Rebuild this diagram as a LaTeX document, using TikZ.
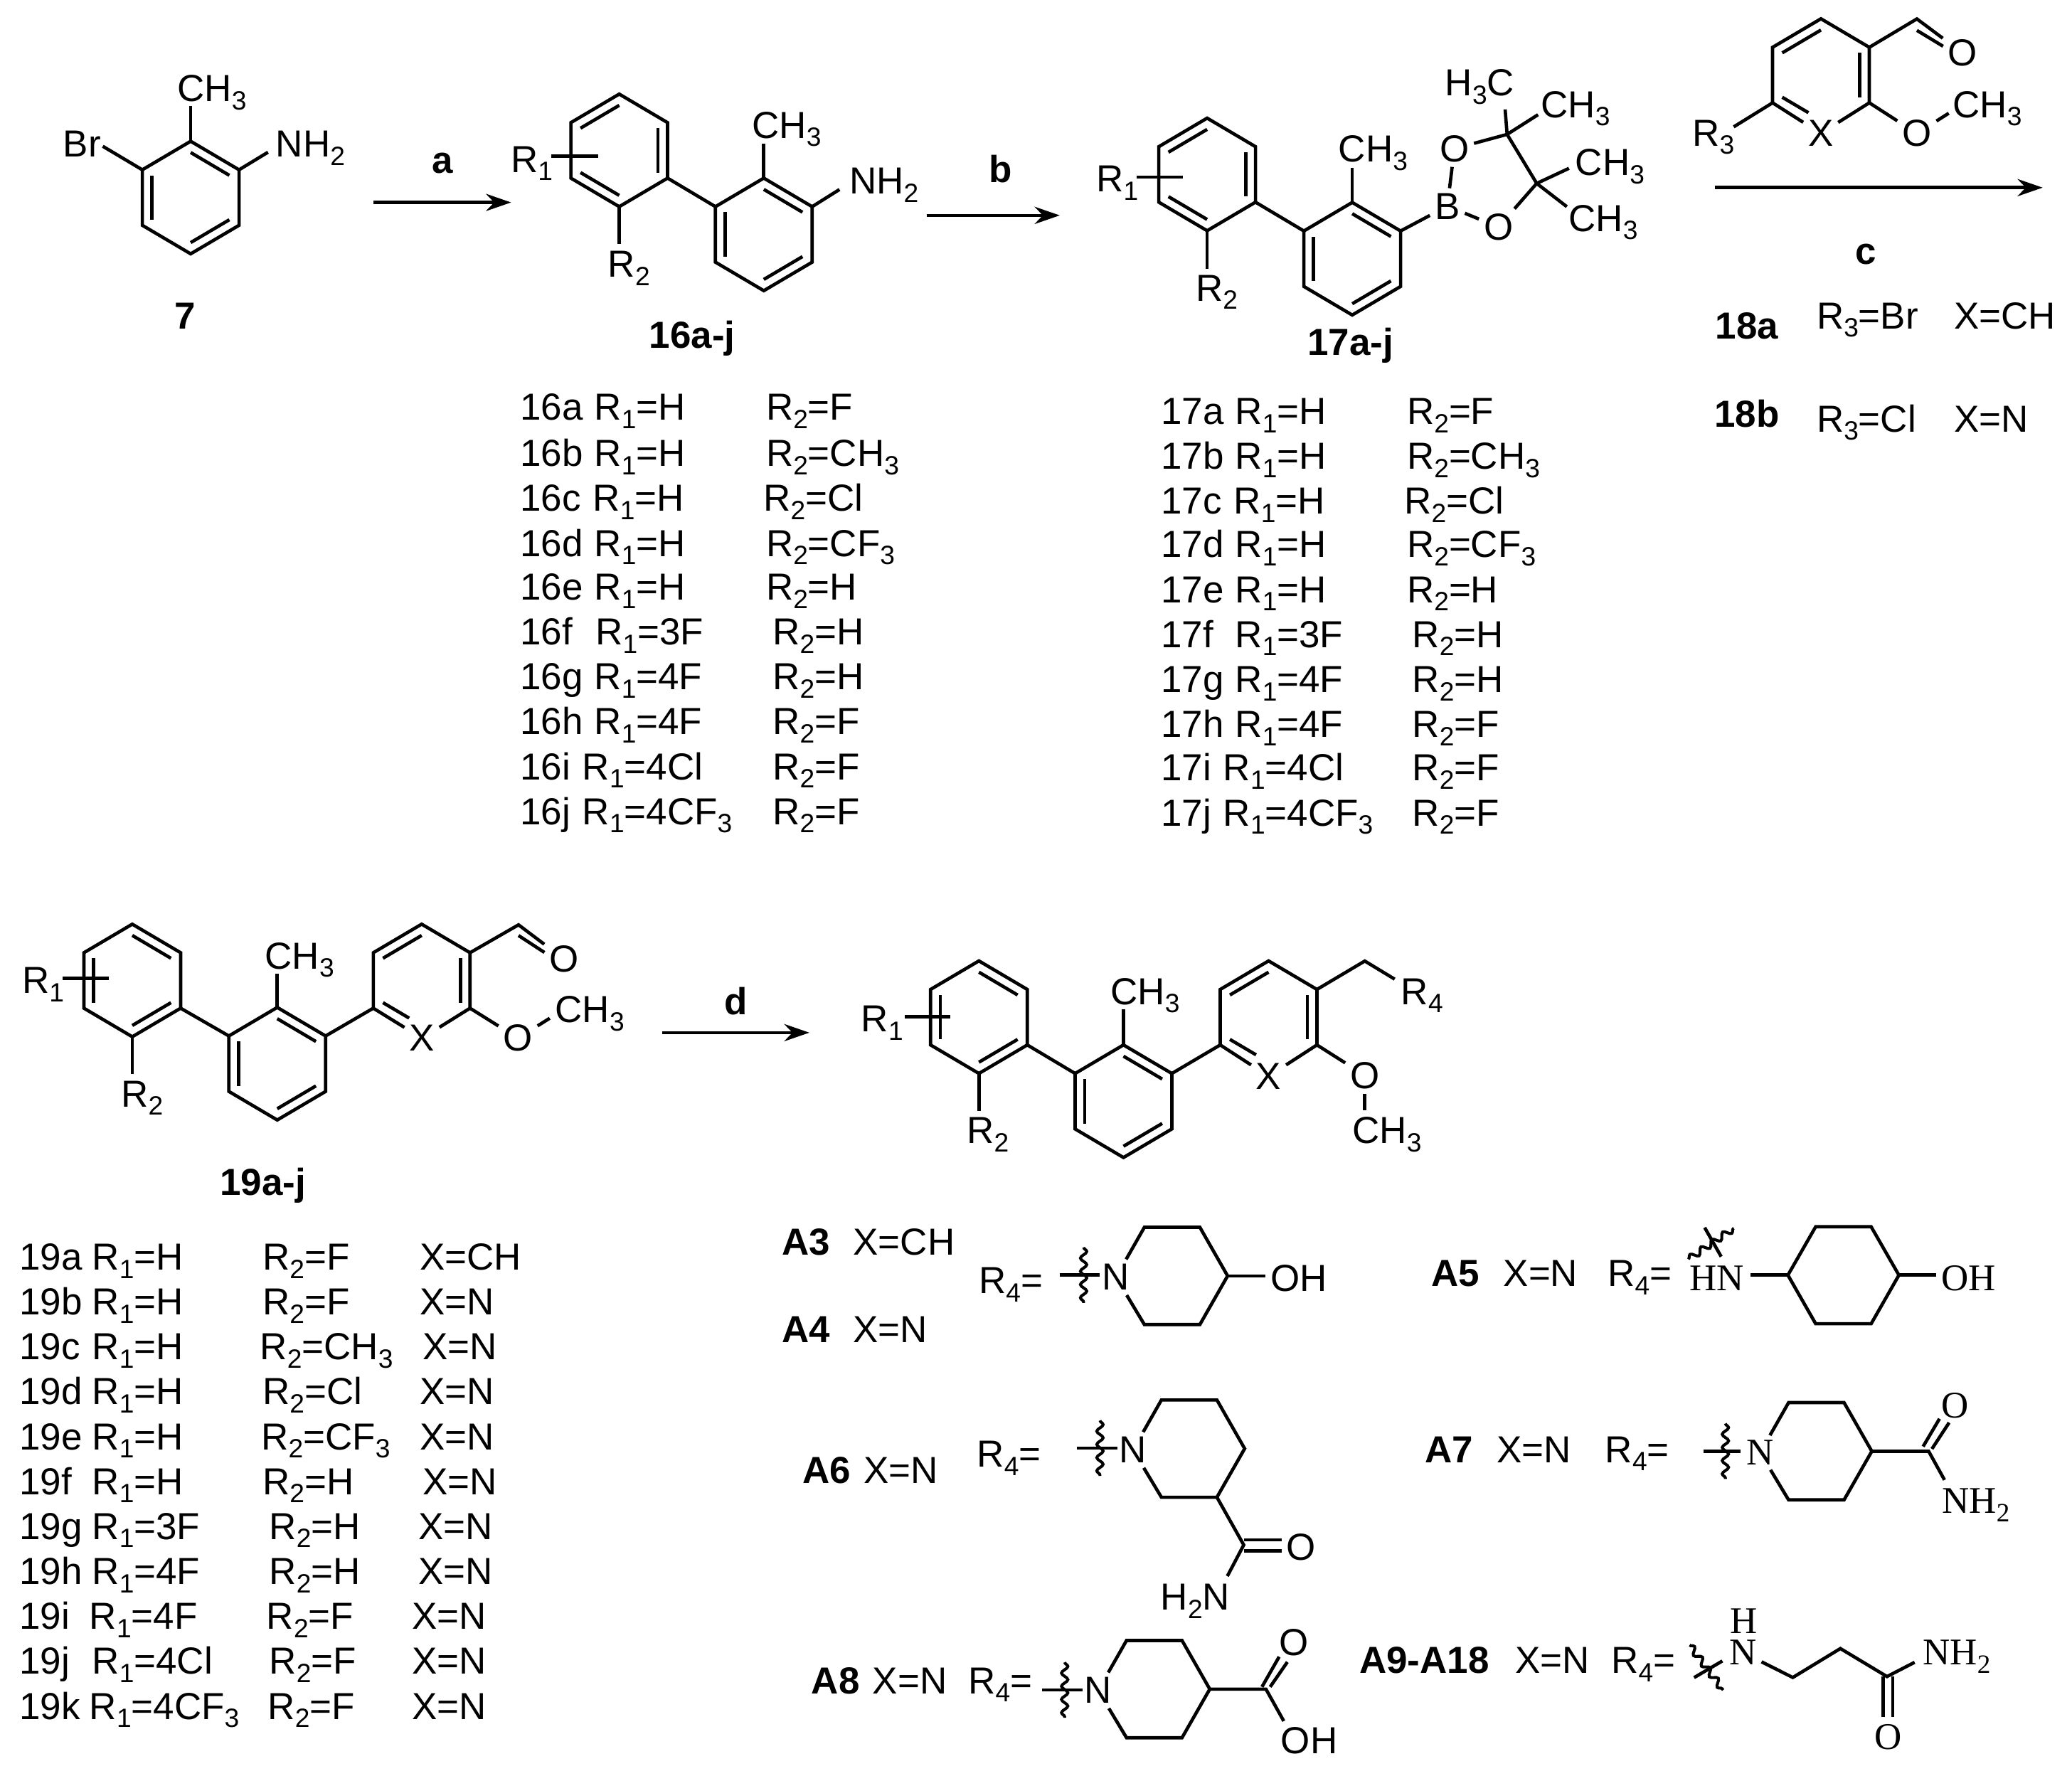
\documentclass[tikz,border=0pt]{standalone}
\usepackage{fontspec}
\setmainfont{Liberation Sans}
\newfontfamily\serifatom{Liberation Serif}
\usetikzlibrary{arrows.meta,calc,decorations.pathmorphing}

\newcommand{\lsub}[1]{\raisebox{-0.22em}{\fontsize{20}{20}\selectfont #1}}
% ring corners: 1 top, then clockwise, 0 centre
\newcommand{\hexpts}[3]{
  \coordinate (#1-0) at (#2,#3);
  \coordinate (#1-1) at (#2,#3-42.6);
  \coordinate (#1-2) at (#2+36.6,#3-21);
  \coordinate (#1-3) at (#2+36.6,#3+21);
  \coordinate (#1-4) at (#2,#3+42.6);
  \coordinate (#1-5) at (#2-36.6,#3+21);
  \coordinate (#1-6) at (#2-36.6,#3-21);
}
\newcommand{\phring}[3]{
  \hexpts{#1}{#2}{#3}
  \draw (#1-1) -- (#1-2) -- (#1-3) -- (#1-4) -- (#1-5) -- (#1-6) -- cycle;
}
\newcommand{\inbond}[4][]{\draw[#1] ($(#2-#3)!0.2!(#2-0)$) -- ($(#2-#4)!0.2!(#2-0)$);}
% saturated ring, given by its right corner; the N is a node
\newcommand{\pipring}[4]{
  \coordinate (#1-1) at (#2-63,#3-36.8);
  \coordinate (#1-2) at (#2-21,#3-36.8);
  \coordinate (#1-3) at (#2,#3);
  \coordinate (#1-4) at (#2-21,#3+36.8);
  \coordinate (#1-5) at (#2-63,#3+36.8);
  \node[atom] (#1-n) at (#2-84.5,#3+1) {#4N};
  \draw (#1-n) -- (#1-1) -- (#1-2) -- (#1-3) -- (#1-4) -- (#1-5) -- (#1-n);
}
% straight cut through the bond, with the wavy line across it
\newcommand{\cutmark}[5]{
  \coordinate (#1-a) at (#2,#5);
  \coordinate (#1-b) at (#3,#5);
  \coordinate (#1-c) at (#4,#5-21);
  \coordinate (#1-d) at (#4,#5+21);
  \draw (#1-a) -- (#1-b);
  \draw[wavy] (#1-c) -- (#1-d);
}

\tikzset{
  txt/.style={anchor=base west,inner sep=0pt,xshift=-1.5pt,font=\fontsize{28.5}{30}\selectfont},
  btxt/.style={txt,font=\fontsize{28.5}{30}\selectfont\bfseries},
  title/.style={anchor=base,inner sep=0pt,font=\fontsize{28.5}{30}\selectfont\bfseries},
  atom/.style={inner sep=2.5pt,font=\fontsize{28.5}{30}\selectfont},
  rxn/.style={line width=2.5pt,-{Stealth[length=19pt,width=13pt]}},
  wavy/.style={line width=2.2pt,decorate,decoration={snake,segment length=10pt,amplitude=2.4pt}}
}

\begin{document}
\begin{tikzpicture}[x=1pt,y=-1pt,line width=2.5pt]
  \useasboundingbox (0,0) rectangle (1568,1344);

  % 7
  \phring{a7}{144.3}{149.5}
  \inbond{a7}{1}{2}
  \inbond{a7}{3}{4}
  \inbond{a7}{5}{6}
  \node[txt] (a7m) at (134.5,76.8) {CH\lsub{3}};
  \node[txt] (a7br) at (48,118.8) {Br};
  \node[txt] (a7nh) at (209,118.8) {NH\lsub{2}};
  \node[title] (a7name) at (140,249) {7};
  \coordinate (a7p) at (144.3,80.4);
  \coordinate (a7q) at (77.8,110.7);
  \coordinate (a7r) at (202.8,115.2);
  \draw (a7-1) -- (a7p);
  \draw (a7-6) -- (a7q);
  \draw (a7-2) -- (a7r);

  % 16
  \phring{b1}{468.6}{113.8}
  \phring{b2}{578}{177.4}
  \inbond{b1}{1}{6}
  \inbond{b1}{2}{3}
  \inbond{b1}{4}{5}
  \inbond{b2}{1}{2}
  \inbond{b2}{3}{4}
  \inbond{b2}{5}{6}
  \draw (b1-3) -- (b2-6);
  \node[txt] (b1r) at (386.8,130.4) {R\lsub{1}};
  \node[txt] (b2r) at (460.4,209.8) {R\lsub{2}};
  \node[txt] (b2m) at (569.4,104.5) {CH\lsub{3}};
  \node[txt] (b2nh) at (643,146.8) {NH\lsub{2}};
  \node[title] (bname) at (523.8,263.4) {16a-j};
  \coordinate (b1p) at (417.1,118);
  \coordinate (b1q) at (452.7,118);
  \coordinate (b1s) at (468.6,184.8);
  \coordinate (b2p) at (578,108.6);
  \coordinate (b2q) at (635.3,143.4);
  \draw (b1p) -- (b1q);
  \draw (b1-4) -- (b1s);
  \draw (b2-1) -- (b2p);
  \draw (b2-2) -- (b2q);

  % 17
  \phring{c1}{913.5}{132}
  \phring{c2}{1023.3}{195.8}
  \inbond{c1}{1}{6}
  \inbond{c1}{2}{3}
  \inbond{c1}{4}{5}
  \inbond{c2}{1}{2}
  \inbond{c2}{3}{4}
  \inbond{c2}{5}{6}
  \draw (c1-3) -- (c2-6);
  \node[txt] (c1r) at (829.9,145) {R\lsub{1}};
  \node[txt] (c2r) at (905.2,227.8) {R\lsub{2}};
  \node[txt] (c2m) at (1013.2,122.6) {CH\lsub{3}};
  \node[atom] (cb) at (1095.3,156) {B};
  \node[atom] (co1) at (1100.6,112.5) {O};
  \node[atom] (co2) at (1134,171.8) {O};
  \node[txt] (cm1) at (1094,72.5) {H\lsub{3}C};
  \node[txt] (cm2) at (1166.3,89) {CH\lsub{3}};
  \node[txt] (cm3) at (1192.5,132.9) {CH\lsub{3}};
  \node[txt] (cm4) at (1187.3,175) {CH\lsub{3}};
  \node[title] (cname) at (1022,269) {17a-j};
  \coordinate (c1p) at (860,134);
  \coordinate (c1q) at (895.3,134);
  \coordinate (c1s) at (913.5,203.2);
  \coordinate (c2p) at (1023.3,127);
  \coordinate (cc1) at (1140.5,101.7);
  \coordinate (cc2) at (1162.9,138.8);
  \coordinate (cp1) at (1139,82.8);
  \coordinate (cp2) at (1163.9,86.8);
  \coordinate (cp3) at (1187.3,127.4);
  \coordinate (cp4) at (1185.7,156.4);
  \draw (c1p) -- (c1q);
  \draw (c1-4) -- (c1s);
  \draw (c2-1) -- (c2p);
  \draw (c2-2) -- (cb);
  \draw (cb) -- (co1);
  \draw (cb) -- (co2);
  \draw (co1) -- (cc1);
  \draw (co2) -- (cc2);
  \draw (cc1) -- (cc2);
  \draw (cc1) -- (cp1);
  \draw (cc1) -- (cp2);
  \draw (cc2) -- (cp3);
  \draw (cc2) -- (cp4);

  % 18
  \hexpts{d}{1378}{56.8}
  \node[atom] (dx) at (1377.8,101) {X};
  \node[atom] (do1) at (1485,40) {O};
  \node[atom] (do2) at (1450.6,101) {O};
  \node[txt] (dr) at (1281,110.5) {R\lsub{3}};
  \node[txt] (dm) at (1478,89) {CH\lsub{3}};
  \coordinate (dc) at (1450.6,14.3);
  \coordinate (dp) at (1312,96);
  \coordinate (dq) at (1474.7,85.7);
  \coordinate (ds) at (1450.6,23);
  \coordinate (dt) at (1470.4,35);
  \draw (dx) -- (d-5) -- (d-6) -- (d-1) -- (d-2) -- (d-3) -- (dx);
  \inbond{d}{1}{6}
  \inbond{d}{2}{3}
  \inbond[shorten >=11pt]{d}{5}{4}
  \draw (d-2) -- (dc) -- (do1);
  \draw (ds) -- (dt);
  \draw (d-5) -- (dp);
  \draw (d-3) -- (do2);
  \draw (do2) -- (dq);

  \node[title] (dname1) at (1322,256.4) {18a};
  \node[txt] (dr1) at (1375,248.7) {R\lsub{3}=Br};
  \node[txt] (dx1) at (1479,248.7) {X=CH};
  \node[title] (dname2) at (1322,323) {18b};
  \node[txt] (dr2) at (1375,326.9) {R\lsub{3}=Cl};
  \node[txt] (dx2) at (1479,326.9) {X=N};

  % arrows of the first row
  \coordinate (ar1) at (282.6,153.2);
  \coordinate (ar2) at (386.8,153.2);
  \coordinate (ar3) at (701.6,163);
  \coordinate (ar4) at (802,163);
  \coordinate (ar5) at (1298,142);
  \coordinate (ar6) at (1545.8,142);
  \draw[rxn] (ar1) -- (ar2);
  \draw[rxn] (ar3) -- (ar4);
  \draw[rxn] (ar5) -- (ar6);
  \node[title] (sa) at (335,131.3) {a};
  \node[title] (sb) at (757,138) {b};
  \node[title] (sc) at (1412,199.9) {c};

  % lists
  \foreach \lbl/\xa/\ra/\xb/\rb/\yy in {
    16a/450/H/580/F/318,
    16b/450/H/580/CH\lsub{3}/353,
    16c/449/H/578/Cl/387,
    16d/450/H/580/CF\lsub{3}/421,
    16e/450/H/580/H/454,
    16f/451/3F/585/H/488,
    16g/450/4F/585/H/522,
    16h/450/4F/585/F/556,
    16i/441/4Cl/585/F/590,
    16j/441/4CF\lsub{3}/585/F/624,
    17a/935/H/1065/F/321,
    17b/935/H/1065/CH\lsub{3}/355,
    17c/934/H/1063/Cl/389,
    17d/935/H/1065/CF\lsub{3}/422,
    17e/935/H/1065/H/456,
    17f/935/3F/1069/H/490,
    17g/935/4F/1069/H/524,
    17h/935/4F/1069/F/558,
    17i/926/4Cl/1069/F/591,
    17j/926/4CF\lsub{3}/1069/F/625}
  {
    \pgfmathsetmacro{\xn}{\xa<700 ? 394 : 879}
    \node[txt] (n\lbl) at (\xn,\yy) {\lbl};
    \node[txt] (p\lbl) at (\xa,\yy) {R\lsub{1}=\ra};
    \node[txt] (q\lbl) at (\xb,\yy) {R\lsub{2}=\rb};
  }
  \foreach \lbl/\xa/\ra/\xb/\rb/\xc/\rc/\yy in {
    19a/70/H/199/F/318/CH/961,
    19b/70/H/199/F/318/N/995,
    19c/70/H/197/CH\lsub{3}/320/N/1029,
    19d/70/H/199/Cl/318/N/1063,
    19e/70/H/198/CF\lsub{3}/318/N/1097,
    19f/70/H/199/H/320/N/1131,
    19g/70/3F/204/H/317/N/1165,
    19h/70/4F/204/H/317/N/1199,
    19i/68/4F/202/F/312/N/1233,
    19j/70/4Cl/204/F/312/N/1267,
    19k/68/4CF\lsub{3}/203/F/312/N/1301}
  {
    \node[txt] (n\lbl) at (15,\yy) {\lbl};
    \node[txt] (p\lbl) at (\xa,\yy) {R\lsub{1}=\ra};
    \node[txt] (q\lbl) at (\xb,\yy) {R\lsub{2}=\rb};
    \node[txt] (x\lbl) at (\xc,\yy) {X=\rc};
  }

  % 19
  \phring{e1}{100.1}{742}
  \phring{e2}{209.8}{805}
  \hexpts{e3}{319.1}{742}
  \inbond{e1}{1}{2}
  \inbond{e1}{3}{4}
  \inbond{e1}{5}{6}
  \inbond{e2}{1}{2}
  \inbond{e2}{3}{4}
  \inbond{e2}{5}{6}
  \draw (e1-3) -- (e2-6);
  \draw (e2-2) -- (e3-5);
  \node[atom] (ex) at (319.3,785.7) {X};
  \node[atom] (eo1) at (426.7,725.8) {O};
  \node[atom] (eo2) at (392,785.7) {O};
  \node[txt] (e1r) at (17,751.9) {R\lsub{1}};
  \node[txt] (e1s) at (92,837.7) {R\lsub{2}};
  \node[txt] (e2m) at (200.8,733.2) {CH\lsub{3}};
  \node[txt] (e3m) at (420.5,774) {CH\lsub{3}};
  \node[title] (ename) at (199,904.6) {19a-j};
  \coordinate (e1p) at (47.4,740.4);
  \coordinate (e1q) at (82.4,740.4);
  \coordinate (e1t) at (100.1,812.7);
  \coordinate (e2p) at (209.8,736.8);
  \coordinate (ec) at (392.4,699.9);
  \coordinate (es) at (392.4,708);
  \coordinate (et) at (412,720.8);
  \coordinate (eq) at (416,770.6);
  \draw (e1p) -- (e1q);
  \draw (e1-4) -- (e1t);
  \draw (e2-1) -- (e2p);
  \draw (ex) -- (e3-5) -- (e3-6) -- (e3-1) -- (e3-2) -- (e3-3) -- (ex);
  \inbond{e3}{1}{6}
  \inbond{e3}{2}{3}
  \inbond[shorten >=11pt]{e3}{5}{4}
  \draw (e3-2) -- (ec) -- (eo1);
  \draw (es) -- (et);
  \draw (e3-3) -- (eo2);
  \draw (eo2) -- (eq);

  \coordinate (ar7) at (501,781.5);
  \coordinate (ar8) at (612.5,781.5);
  \draw[rxn] (ar7) -- (ar8);
  \node[title] (sd) at (557,768) {d};

  % final compounds
  \phring{f1}{740.8}{769.8}
  \phring{f2}{850.2}{833.4}
  \hexpts{f3}{960}{769.8}
  \inbond{f1}{1}{2}
  \inbond{f1}{3}{4}
  \inbond{f1}{5}{6}
  \inbond{f2}{1}{2}
  \inbond{f2}{3}{4}
  \inbond{f2}{5}{6}
  \draw (f1-3) -- (f2-6);
  \draw (f2-2) -- (f3-5);
  \node[atom] (fx) at (960,814.5) {X};
  \node[atom] (fo) at (1032.8,813.8) {O};
  \node[txt] (f1r) at (652,780.9) {R\lsub{1}};
  \node[txt] (f1s) at (732,865.5) {R\lsub{2}};
  \node[txt] (f2m) at (840.7,760.2) {CH\lsub{3}};
  \node[txt] (f3r) at (1060.6,760.2) {R\lsub{4}};
  \node[txt] (f3m) at (1023.7,865.5) {CH\lsub{3}};
  \coordinate (f1p) at (684.7,769.3);
  \coordinate (f1q) at (719,769.3);
  \coordinate (f1t) at (740.8,841);
  \coordinate (f2p) at (850.2,764);
  \coordinate (fc) at (1032.8,727.3);
  \coordinate (fp) at (1055.4,741);
  \coordinate (fq) at (1032.8,840.2);
  \draw (f1p) -- (f1q);
  \draw (f1-4) -- (f1t);
  \draw (f2-1) -- (f2p);
  \draw (fx) -- (f3-5) -- (f3-6) -- (f3-1) -- (f3-2) -- (f3-3) -- (fx);
  \inbond{f3}{1}{6}
  \inbond{f3}{2}{3}
  \inbond[shorten >=11pt]{f3}{5}{4}
  \draw (f3-2) -- (fc) -- (fp);
  \draw (f3-3) -- (fo);
  \draw (fo) -- (fq);

  % A3, A4
  \node[btxt] (g3) at (592,949.6) {A3};
  \node[txt] (g3x) at (646,949.6) {X=CH};
  \node[btxt] (g4) at (592,1015.9) {A4};
  \node[txt] (g4x) at (646,1015.9) {X=N};
  \node[txt] (gr) at (741,979.1) {R\lsub{4}=};
  \pipring{g}{929}{965.6}{}
  \node[txt] (goh) at (962,977.2) {OH};
  \coordinate (gh) at (957.5,965.6);
  \draw (g-3) -- (gh);
  \cutmark{gc}{802}{832}{820}{965}

  % A5
  \node[btxt] (h5) at (1083.6,973.7) {A5};
  \node[txt] (h5x) at (1138,973.7) {X=N};
  \node[txt] (hr) at (1217,973.7) {R\lsub{4}=};
  \node[txt] (hn) at (1279,976.5) {\serifatom HN};
  \node[txt] (hoh) at (1469.4,976.5) {\serifatom OH};
  \coordinate (h-1) at (1374,928.4);
  \coordinate (h-2) at (1416,928.4);
  \coordinate (h-3) at (1437,965);
  \coordinate (h-4) at (1416,1001.8);
  \coordinate (h-5) at (1374,1001.8);
  \coordinate (h-6) at (1353,965);
  \draw (h-1) -- (h-2) -- (h-3) -- (h-4) -- (h-5) -- (h-6) -- cycle;
  \coordinate (hp) at (1324.6,965);
  \coordinate (hq) at (1465.4,965);
  \draw (h-6) -- (hp);
  \draw (h-3) -- (hq);
  \coordinate (hc1) at (1290,929);
  \coordinate (hc2) at (1302.5,951);
  \coordinate (hc3) at (1277.7,953);
  \coordinate (hc4) at (1312,929.5);
  \draw (hc1) -- (hc2);
  \draw[wavy] (hc3) -- (hc4);

  % A6
  \node[btxt] (k6) at (607.5,1122.6) {A6};
  \node[txt] (k6x) at (653.8,1122.6) {X=N};
  \node[txt] (kr) at (739.7,1110.3) {R\lsub{4}=};
  \pipring{k}{941.9}{1096.3}{}
  \cutmark{kc}{815}{845.4}{832.4}{1096}
  \node[atom] (ko) at (984.4,1170.8) {O};
  \node[txt] (knh) at (878.7,1218.3) {H\lsub{2}N};
  \coordinate (kd) at (941.2,1169.2);
  \coordinate (kd1) at (941.2,1165.4);
  \coordinate (kd2) at (970,1165.4);
  \coordinate (kd3) at (941.2,1173.8);
  \coordinate (kd4) at (970,1173.8);
  \coordinate (kq) at (928.8,1192.8);
  \draw (k-4) -- (kd) -- (kq);
  \draw (kd1) -- (kd2);
  \draw (kd3) -- (kd4);

  % A7
  \node[btxt] (m7) at (1078.6,1106.7) {A7};
  \node[txt] (m7x) at (1133,1106.7) {X=N};
  \node[txt] (mr) at (1215,1106.7) {R\lsub{4}=};
  \pipring{m}{1416.5}{1098.3}{\serifatom}
  \cutmark{mc}{1289}{1317.3}{1305.7}{1098.3}
  \node[atom] (mo) at (1479.7,1063.6) {\serifatom O};
  \node[txt] (mnh) at (1470,1145.4) {\serifatom NH\lsub{2}};
  \coordinate (md) at (1459.5,1098.3);
  \coordinate (md1) at (1455.3,1094.7);
  \coordinate (md2) at (1467.7,1073.7);
  \coordinate (md3) at (1462,1096.5);
  \coordinate (md4) at (1475,1076.6);
  \coordinate (mq) at (1471.5,1120);
  \draw (m-3) -- (md) -- (mq);
  \draw (md1) -- (md2);
  \draw (md3) -- (md4);

  % A8
  \node[btxt] (q8) at (614.3,1281.8) {A8};
  \node[txt] (q8x) at (660.6,1281.8) {X=N};
  \node[txt] (qr) at (733,1281.8) {R\lsub{4}=};
  \pipring{qq}{915.5}{1278.3}{}
  \cutmark{qc}{788.5}{819}{805.7}{1279}
  \node[atom] (qo) at (978.9,1243) {O};
  \node[txt] (qoh) at (969.6,1326.9) {OH};
  \coordinate (qd) at (958,1278.3);
  \coordinate (qd1) at (955,1276.6);
  \coordinate (qd2) at (968,1253.8);
  \coordinate (qd3) at (961.2,1276.6);
  \coordinate (qd4) at (974.2,1257.8);
  \coordinate (qp) at (971.5,1302.5);
  \draw (qq-3) -- (qd) -- (qp);
  \draw (qd1) -- (qd2);
  \draw (qd3) -- (qd4);

  % A9-A18
  \node[btxt] (t9) at (1029,1266.5) {A9-A18};
  \node[txt] (t9x) at (1147,1266.5) {X=N};
  \node[txt] (tr) at (1219.6,1266.5) {R\lsub{4}=};
  \node[atom,inner sep=0pt] (th) at (1319.7,1226.6) {\serifatom H};
  \node[atom] (tn) at (1319,1250.6) {\serifatom N};
  \node[txt] (tnh) at (1455.4,1259.8) {\serifatom NH\lsub{2}};
  \node[atom] (to) at (1428.7,1314.4) {\serifatom O};
  \coordinate (t1) at (1356.7,1269.5);
  \coordinate (t2) at (1392.7,1247.6);
  \coordinate (t3) at (1428,1268.8);
  \coordinate (t4) at (1448.9,1258);
  \coordinate (t5) at (1425,1268.8);
  \coordinate (t6) at (1425,1299.6);
  \coordinate (t7) at (1432.3,1268.8);
  \coordinate (t8) at (1432.3,1299.6);
  \draw (tn) -- (t1) -- (t2) -- (t3) -- (t4);
  \draw (t5) -- (t6);
  \draw (t7) -- (t8);
  \coordinate (tc1) at (1282,1269.6);
  \coordinate (tc2) at (1303.4,1257);
  \coordinate (tc3) at (1278.6,1245);
  \coordinate (tc4) at (1304,1279);
  \draw (tc1) -- (tc2);
  \draw[wavy] (tc3) -- (tc4);
\end{tikzpicture}
\end{document}
